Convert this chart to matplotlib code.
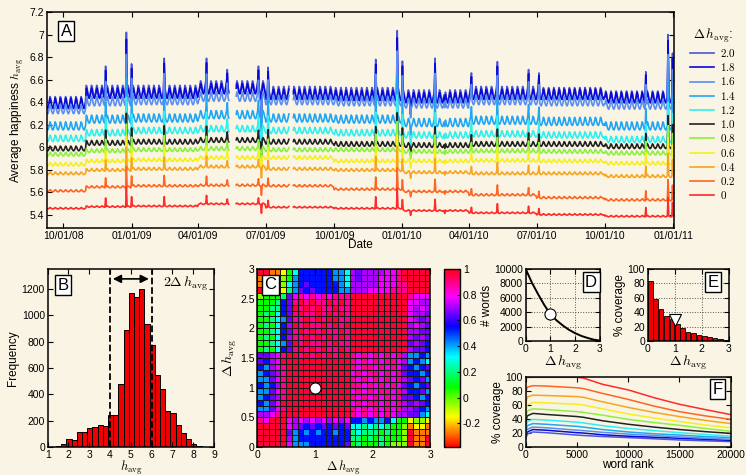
import numpy as np
import pandas as pd
import matplotlib
matplotlib.use("Agg")
import matplotlib.pyplot as plt
import matplotlib.dates as mdates

plt.rcParams['font.family'] = ['Liberation Sans', 'DejaVu Sans']
plt.rcParams['mathtext.fontset'] = 'cm'
plt.rcParams['xtick.direction'] = 'in'
plt.rcParams['ytick.direction'] = 'in'
plt.rcParams['xtick.top'] = True
plt.rcParams['ytick.right'] = True
plt.rcParams['axes.linewidth'] = 1.1
plt.rcParams['xtick.labelsize'] = 7.5
plt.rcParams['ytick.labelsize'] = 7.5
plt.rcParams['xtick.major.pad'] = 2
plt.rcParams['ytick.major.pad'] = 2

bg = '#f9f4e3'

# ---------------- data ----------------
delta_labels = ['2.0', '1.8', '1.6', '1.4', '1.2', '1.0', '0.8', '0.6', '0.4', '0.2', '0']
line_colors = ['#4b55d8', '#0a0ad8', '#5a8ff0', '#20a6f5', '#2ff0f0', '#222222',
               '#8cf040', '#f5ef1e', '#f8a420', '#ff6422', '#ff2a2a']

# panel A: levels per period (Sep08, Nov08, Q1-09 ... Q4-10)
period_starts = ['2008-09-01', '2008-11-01', '2009-01-01', '2009-04-01', '2009-07-01',
                 '2009-10-01', '2010-01-01', '2010-04-01', '2010-07-01', '2010-10-01']
lv_2p0 = [6.40, 6.50, 6.50, 6.54, 6.49, 6.48, 6.46, 6.49, 6.48, 6.45]
lv_1p8 = [6.39, 6.48, 6.48, 6.52, 6.47, 6.46, 6.44, 6.47, 6.47, 6.44]
lv_1p6 = [6.34, 6.41, 6.42, 6.45, 6.42, 6.41, 6.39, 6.42, 6.41, 6.38]
lv_1p4 = [6.19, 6.25, 6.26, 6.29, 6.26, 6.25, 6.22, 6.24, 6.23, 6.19]
lv_1p2 = [6.08, 6.13, 6.15, 6.165, 6.15, 6.13, 6.11, 6.12, 6.11, 6.07]
lv_1p0 = [5.99, 6.04, 6.05, 6.065, 6.05, 6.03, 6.02, 6.03, 6.03, 6.01]
lv_0p8 = [5.94, 5.97, 5.98, 5.99, 5.98, 5.98, 5.965, 5.97, 5.965, 5.95]
lv_0p6 = [5.85, 5.88, 5.89, 5.91, 5.91, 5.88, 5.88, 5.885, 5.88, 5.86]
lv_0p4 = [5.77, 5.80, 5.81, 5.83, 5.81, 5.80, 5.78, 5.77, 5.77, 5.745]
lv_0p2 = [5.615, 5.65, 5.66, 5.665, 5.66, 5.63, 5.61, 5.58, 5.555, 5.535]
lv_0p0 = [5.46, 5.475, 5.48, 5.50, 5.47, 5.46, 5.44, 5.42, 5.405, 5.39]
levels = [lv_2p0, lv_1p8, lv_1p6, lv_1p4, lv_1p2, lv_1p0, lv_0p8, lv_0p6, lv_0p4, lv_0p2, lv_0p0]

# weekly swing (Mon..Sun) and its size per series
week_shape = [-0.3, -0.8, -1.0, -0.6, 0.1, 1.0, 0.6]
week_amp = [0.05, 0.046, 0.042, 0.036, 0.028, 0.021, 0.017, 0.015, 0.012, 0.009, 0.006]

# holidays / news days: jump of the top series, and relative size per series
event_dates = ['2008-11-27', '2008-12-25', '2009-01-01', '2009-02-14', '2009-04-12',
               '2009-05-10', '2009-06-21', '2009-06-25', '2009-07-04', '2009-11-26',
               '2009-12-25', '2010-01-01', '2010-01-12', '2010-02-14', '2010-02-27',
               '2010-04-04', '2010-05-09', '2010-06-20', '2010-07-04', '2010-11-25',
               '2010-12-25', '2010-12-31']
event_jump = [0.25, 0.55, 0.27, 0.24, 0.22, 0.12, 0.15, -0.25, 0.17, 0.33,
              0.55, 0.30, -0.12, 0.30, -0.10, 0.14, 0.24, 0.17, 0.15, 0.25,
              0.50, 0.38]
event_scale = [1.0, 0.92, 0.8, 0.7, 0.6, 0.5, 0.45, 0.42, 0.38, 0.34, 0.32]

gaps = [('2009-05-13', '2009-05-21'), ('2009-08-02', '2009-08-06')]

# panel B: histogram of word happiness (bins of 0.25)
b_edges = [1.15, 1.4, 1.65, 1.9, 2.15, 2.4, 2.65, 2.9, 3.15, 3.4, 3.65, 3.9, 4.15, 4.4, 4.65,
           4.9, 5.15, 5.4, 5.65, 5.9, 6.15, 6.4, 6.65, 6.9, 7.15, 7.4, 7.65, 7.9, 8.15, 8.4]
b_counts = [4, 8, 27, 60, 55, 113, 118, 145, 150, 170, 160, 245, 245, 481, 887,
            1170, 1140, 1197, 934, 776, 548, 441, 275, 255, 165, 105, 63, 20, 5, 2]

# panel C: correlation matrix, rows top (3.0) to bottom (0.0)
c_rows = [
    "RRooygcbbbbbbaacpvppppmmkRRRRR",
    "oooylgabbbbbbaacpvpppmmmkRRRRR",
    "oooylcabvbbbbbacpppppmmmkkRRRR",
    "RRRoytavbvbbbbaapppmmmmkkkRRRR",
    "lgggtvmkmkmkmkkkRRRRRRRRRRkmmm",
    "gggtbvkRkRkkRkRkRRRRRRRRRRmmpp",
    "ggttbvRkRkRkkRkkRRRRRRRRRRmpmp",
    "gtgcbvkRkkRkRkRkRRRRRRRRRRmppv",
    "ggtcavkkRkRkRRkkRRRRRRRRRRmpvp",
    "gtgcbpRkRkkRkRkRRRRRRRRRRRpmpv",
    "ggtcbvkRkRkRkkRkRRRRRRRRRRppvv",
    "gtgcbpkkRkRkRkRkRRRRRRRRRRpvpv",
    "ggtcavRkRkkRkRkkRRRRRRRRRRvpvb",
    "gtgcbvkRkRkRkkRkRRRRRRRRRRpvvb",
    "vvpmkRRkRkRkRkRRkmkmkmkmkpaaba",
    "vbpmRRRRRRRRRRRRkmkmkmkkmpabac",
    "bapmkRRRRRRRRRRRkmkkmkmkmvbabv",
    "abvpkRRRRRRRRRRRmkmkkmkmkvbbab",
    "aavmkRRRRRRRRRRRkmkmkmkmkpvbva",
    "babpkRRRRRRRRRRRkkmkmkmkmvbabv",
    "aavmkRRRRRRRRRRRmkmkmkkmkpbbva",
    "abvpkRRRRRRRRRRRkmkmkmkmkvvbab",
    "bavmRRRRRRRRRRRRmkmkkmkmkpvpvb",
    "aavmkRRRRRRRRRRRkmkmkmkmkppvba",
    "ppmkRRRRRRRRRRRRkmkmkmkmppvvac",
    "kmRRRmpmpmpmpmpmbbabaabcggylly",
    "RRRRRmpvbvbvbvbvcctctctggloyyo",
    "RRRRRvabababbabbtctttgtgglRooo",
    "RRRRRpabbbbbbbbbttgtgtggglRooR",
    "RRRRRmaaabbbbbbvgtgggtglllRooR",
]
c_code = {'R': 0.97, 'k': 0.89, 'm': 0.77, 'p': 0.71, 'v': 0.65, 'b': 0.54, 'a': 0.42,
          'c': 0.31, 't': 0.2, 'g': 0.08, 'l': -0.04, 'y': -0.15, 'o': -0.27}

# panel D: number of words vs delta h
d_dh = [0, 0.25, 0.5, 0.75, 1.0, 1.25, 1.5, 1.75, 2.0, 2.25, 2.5, 2.75, 3.0]
d_words = [10000, 8100, 6500, 5000, 3700, 2850, 2150, 1550, 1080, 700, 420, 180, 60]

# panel E: coverage per delta h bin
e_dh = [0.1, 0.3, 0.5, 0.7, 0.9, 1.1, 1.3, 1.5, 1.7, 1.9, 2.1, 2.3, 2.5, 2.7, 2.9]
e_cov = [83, 58, 44, 35, 30, 23, 18.5, 13, 10.6, 8.3, 7, 5, 3.7, 2.3, 1.8]

# panel F: coverage vs word rank, one curve per delta h (2.0 ... 0)
f_rank = [0, 150, 700, 2000, 5000, 5600, 7500, 10000, 12500, 15000, 17500, 20000]
f_2p0 = [12, 19, 22, 21, 17.6, 17, 15.5, 14, 12.3, 10.6, 9.4, 8.3]
f_1p8 = [15, 22, 25.5, 24.5, 21, 20.5, 18, 16, 14.5, 13, 11.5, 10]
f_1p6 = [18, 26, 29, 28, 24.5, 24, 21.5, 19, 17, 15, 13.2, 11.6]
f_1p4 = [22, 31, 34, 33, 30, 29, 25.5, 22, 19.5, 17.6, 15.5, 14]
f_1p2 = [27, 37, 40, 39, 36, 35, 31, 27, 24, 21, 18.5, 16]
f_1p0 = [34, 45, 48.5, 47, 44, 43, 38, 33, 29, 25.5, 22.5, 20]
f_0p8 = [42, 52, 55, 54, 51, 50, 46, 40, 35.5, 31.5, 27, 23]
f_0p6 = [52, 61, 64, 63.5, 61.5, 60.5, 55, 47.7, 42, 37, 32, 28]
f_0p4 = [62, 72, 74.5, 74, 72.5, 71.5, 65, 57, 50, 44, 38.5, 34]
f_0p2 = [78, 86, 88, 87.5, 85, 84, 77, 68.5, 59, 51, 45, 40]
f_0p0 = [98, 100, 100, 100, 100, 99, 90, 82, 71, 61.5, 54, 46.8]
f_curves = [f_2p0, f_1p8, f_1p6, f_1p4, f_1p2, f_1p0, f_0p8, f_0p6, f_0p4, f_0p2, f_0p0]

# ---------------- figure ----------------
fig = plt.figure(figsize=(7.46, 4.75), dpi=100, facecolor=bg)


def label_box(ax, x, y, s, ha='left'):
    ax.text(x, y, s, transform=ax.transAxes, ha=ha, va='top', fontsize=12, zorder=10,
            bbox=dict(boxstyle='square,pad=0.15', facecolor='white', edgecolor='black', linewidth=1))


# --- A ---
axA = fig.add_axes([0.063, 0.52, 0.8405, 0.4547], facecolor=bg)
days = pd.date_range('2008-09-09', '2011-01-01', freq='D')
pidx = np.searchsorted(pd.to_datetime(period_starts).values, days.values, side='right') - 1
wk = np.array(week_shape)[days.dayofweek]
ev = pd.to_datetime(event_dates)
mask = np.zeros(len(days), dtype=bool)
for g0, g1 in gaps:
    mask |= (days >= g0) & (days <= g1)

handles = []
for k in range(len(delta_labels)):
    y = np.array(levels[k])[pidx] + week_amp[k] * wk
    for d, j in zip(ev, event_jump):
        y[days == d] += j * event_scale[k]
    y[mask] = np.nan
    h, = axA.plot(days, y, color=line_colors[k], lw=1.2, label='$' + delta_labels[k] + '$')
    handles.append(h)

axA.set_xlim(pd.Timestamp('2008-09-09'), pd.Timestamp('2011-01-02'))
axA.set_ylim(5.285, 7.2)
axA.set_yticks([5.4, 5.6, 5.8, 6.0, 6.2, 6.4, 6.6, 6.8, 7.0, 7.2])
axA.set_yticklabels(['5.4', '5.6', '5.8', '6', '6.2', '6.4', '6.6', '6.8', '7', '7.2'])
tick_dates = pd.to_datetime(['2008-10-01', '2009-01-01', '2009-04-01', '2009-07-01', '2009-10-01',
                             '2010-01-01', '2010-04-01', '2010-07-01', '2010-10-01', '2011-01-01'])
axA.set_xticks(tick_dates)
axA.xaxis.set_major_formatter(mdates.DateFormatter('%m/%d/%y'))
axA.set_xlabel('Date', fontsize=8.5, labelpad=-1)
axA.set_ylabel(r'Average happiness $h_{\rm avg}$', fontsize=8.5, labelpad=3)
label_box(axA, 0.022, 0.945, 'A')

fig.legend(handles, [h.get_label() for h in handles], loc='upper left',
           bbox_to_anchor=(0.9164, 0.958), frameon=False, title=r'$\Delta\,h_{\rm avg}$:',
           fontsize=8, title_fontsize=9.5, handlelength=2.15, labelspacing=0.2,
           handletextpad=0.5, borderaxespad=0.2)

# --- B ---
axB = fig.add_axes([0.0639, 0.0587, 0.2230, 0.3750], facecolor=bg)
axB.bar(b_edges, b_counts, width=0.25, align='edge', color='#ee0000', edgecolor='black', linewidth=0.7)
axB.axvline(4, color='black', ls='--', lw=1.3)
axB.axvline(6, color='black', ls='--', lw=1.3)
axB.annotate('', xy=(4, 1275), xytext=(6, 1275),
             arrowprops=dict(arrowstyle='<|-|>', color='black', lw=1.2, mutation_scale=12))
axB.text(6.55, 1215, r'$2\Delta\,h_{\rm avg}$', fontsize=10)
axB.set_xlim(1, 9)
axB.set_ylim(0, 1350)
axB.set_xticks(range(1, 10))
axB.set_yticks(range(0, 1201, 200))
axB.set_ylabel('Frequency', fontsize=8.5, labelpad=2)
axB.set_xlabel(r'$h_{\rm avg}$', fontsize=9, labelpad=-1)
label_box(axB, 0.06, 0.95, 'B')

# --- C ---
axC = fig.add_axes([0.3449, 0.0587, 0.2319, 0.3750], facecolor=bg)
c_mat = np.array([[c_code[ch] for ch in row] for row in c_rows[::-1]])
edges = np.arange(31) * 0.1
mesh = axC.pcolormesh(edges, edges, c_mat, cmap='hsv', vmin=-0.385, vmax=1,
                      edgecolors='#1a1a1a', linewidth=0.6)
axC.plot([1], [1], 'o', ms=8, mfc='white', mec='black', mew=0.8)
axC.set_xlim(0, 3)
axC.set_ylim(0, 3)
axC.set_xticks([0, 1, 2, 3])
axC.set_yticks([0, 0.5, 1, 1.5, 2, 2.5, 3])
axC.set_yticklabels(['0', '0.5', '1', '1.5', '2', '2.5', '3'])
axC.set_xlabel(r'$\Delta\,h_{\rm avg}$', fontsize=9, labelpad=-1)
axC.set_ylabel(r'$\Delta\,h_{\rm avg}$', fontsize=10, labelpad=1)
label_box(axC, 0.04, 0.955, 'C')

cax = fig.add_axes([0.5952, 0.0587, 0.0214, 0.3750])
cb = fig.colorbar(mesh, cax=cax, ticks=[-0.2, 0, 0.2, 0.4, 0.6, 0.8, 1])
cb.ax.set_yticklabels(['-0.2', '0', '0.2', '0.4', '0.6', '0.8', '1'])
cb.ax.tick_params(labelsize=7.5, length=2)
cb.outline.set_linewidth(1.0)

# --- D ---
axD = fig.add_axes([0.7047, 0.2821, 0.0996, 0.1516], facecolor=bg)
axD.plot(d_dh, d_words, color='black', lw=1.4)
axD.plot([d_dh[4]], [d_words[4]], 'o', ms=8, mfc='white', mec='black', mew=0.8)
axD.set_xlim(0, 3)
axD.set_ylim(0, 10000)
axD.set_xticks([0, 1, 2, 3])
axD.set_yticks(range(0, 10001, 2000))
axD.grid(True, ls=':', color='#555555', lw=0.7)
axD.set_ylabel('# words', fontsize=8.5, labelpad=1)
axD.set_xlabel(r'$\Delta\,h_{\rm avg}$', fontsize=10, labelpad=0)
label_box(axD, 0.96, 0.92, 'D', ha='right')

# --- E ---
axE = fig.add_axes([0.8682, 0.2821, 0.1086, 0.1516], facecolor=bg)
axE.bar(e_dh, e_cov, width=0.17, color='#ee0000', edgecolor='black', linewidth=0.6)
axE.plot([1.0], [29], 'v', ms=9, mfc='white', mec='black', mew=0.8)
axE.set_xlim(0, 3)
axE.set_ylim(0, 100)
axE.set_xticks([0, 1, 2, 3])
axE.set_yticks(range(0, 101, 20))
axE.grid(True, ls=':', color='#555555', lw=0.7)
axE.set_axisbelow(True)
axE.set_ylabel('% coverage', fontsize=8.5, labelpad=1)
axE.set_xlabel(r'$\Delta\,h_{\rm avg}$', fontsize=10, labelpad=0)
label_box(axE, 0.88, 0.92, 'E', ha='right')

# --- F ---
axF = fig.add_axes([0.7047, 0.0581, 0.2748, 0.1476], facecolor=bg)
for k in range(len(f_curves)):
    axF.plot(f_rank, f_curves[k], color=line_colors[k], lw=1.1)
axF.set_xlim(0, 20000)
axF.set_ylim(0, 100)
axF.set_xticks(range(0, 20001, 5000))
axF.set_yticks(range(0, 101, 20))
axF.set_ylabel('% coverage', fontsize=8.5, labelpad=1)
axF.set_xlabel('word rank', fontsize=8.5, labelpad=-1)
label_box(axF, 0.96, 0.935, 'F', ha='right')

fig.savefig('out.png', dpi=100, facecolor=bg)
